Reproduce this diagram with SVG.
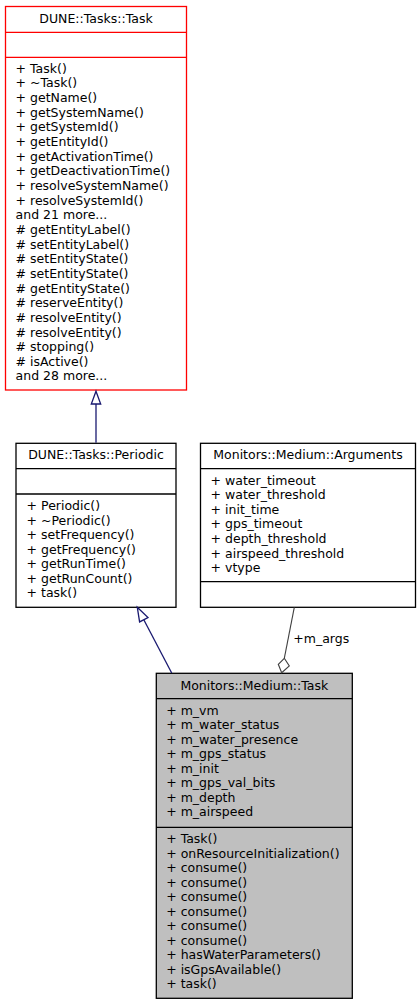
<svg xmlns="http://www.w3.org/2000/svg" width="420" height="1005" viewBox="0 0 420 1005">
<style>
text{font-family:"DejaVu Sans","Bitstream Vera Sans",sans-serif;font-size:12.5px;fill:#000}
.t{text-anchor:middle}
.box{fill:#fff;stroke:#000;stroke-width:1.3}
.red{stroke:#ff0000}
.grey{fill:#bfbfbf}
.sep{stroke:#000;stroke-width:1.3}
.sepr{stroke:#ff0000;stroke-width:1.3}
.inh{stroke:#191970;stroke-width:1.3;fill:none}
.inhh{stroke:#191970;stroke-width:1.3;fill:#fff}
.agg{stroke:#404040;stroke-width:1.1;fill:none}
.aggh{stroke:#404040;stroke-width:1.1;fill:#fff}
</style>
<rect width="420" height="1005" fill="#fff"/>
<g id="node-dune-tasks-task">
<rect class="box red" x="5.5" y="6.5" width="181" height="383.5"/>
<line class="sepr" x1="5.5" y1="32.3" x2="186.5" y2="32.3"/>
<line class="sepr" x1="5.5" y1="57.3" x2="186.5" y2="57.3"/>
<text class="t" x="96" y="23">DUNE::Tasks::Task</text>
<text x="15.6" y="72.8">+ Task()</text>
<text x="15.6" y="87.45">+ ~Task()</text>
<text x="15.6" y="102.1">+ getName()</text>
<text x="15.6" y="116.75">+ getSystemName()</text>
<text x="15.6" y="131.4">+ getSystemId()</text>
<text x="15.6" y="146.05">+ getEntityId()</text>
<text x="15.6" y="160.7">+ getActivationTime()</text>
<text x="15.6" y="175.35">+ getDeactivationTime()</text>
<text x="15.6" y="190">+ resolveSystemName()</text>
<text x="15.6" y="204.65">+ resolveSystemId()</text>
<text x="15.6" y="219.3">and 21 more...</text>
<text x="15.6" y="233.95"># getEntityLabel()</text>
<text x="15.6" y="248.6"># setEntityLabel()</text>
<text x="15.6" y="263.25"># setEntityState()</text>
<text x="15.6" y="277.9"># setEntityState()</text>
<text x="15.6" y="292.55"># getEntityState()</text>
<text x="15.6" y="307.2"># reserveEntity()</text>
<text x="15.6" y="321.85"># resolveEntity()</text>
<text x="15.6" y="336.5"># resolveEntity()</text>
<text x="15.6" y="351.15"># stopping()</text>
<text x="15.6" y="365.8"># isActive()</text>
<text x="15.6" y="380.45">and 28 more...</text>
</g>
<g id="node-dune-tasks-periodic">
<rect class="box" x="16" y="443.3" width="160" height="164"/>
<line class="sep" x1="16" y1="468.7" x2="176" y2="468.7"/>
<line class="sep" x1="16" y1="494" x2="176" y2="494"/>
<text class="t" x="96" y="458.6">DUNE::Tasks::Periodic</text>
<text x="26.6" y="510">+ Periodic()</text>
<text x="26.6" y="524.5">+ ~Periodic()</text>
<text x="26.6" y="539">+ setFrequency()</text>
<text x="26.6" y="553.5">+ getFrequency()</text>
<text x="26.6" y="568">+ getRunTime()</text>
<text x="26.6" y="582.5">+ getRunCount()</text>
<text x="26.6" y="597">+ task()</text>
</g>
<g id="node-monitors-medium-arguments">
<rect class="box" x="200.5" y="443.3" width="215" height="164"/>
<line class="sep" x1="200.5" y1="468.7" x2="415.5" y2="468.7"/>
<line class="sep" x1="200.5" y1="581.7" x2="415.5" y2="581.7"/>
<text class="t" x="308" y="458.6">Monitors::Medium::Arguments</text>
<text x="210.6" y="484.5">+ water_timeout</text>
<text x="210.6" y="499.15">+ water_threshold</text>
<text x="210.6" y="513.8">+ init_time</text>
<text x="210.6" y="528.45">+ gps_timeout</text>
<text x="210.6" y="543.1">+ depth_threshold</text>
<text x="210.6" y="557.75">+ airspeed_threshold</text>
<text x="210.6" y="572.4">+ vtype</text>
</g>
<g id="node-monitors-medium-task">
<rect class="box grey" x="156.3" y="673.3" width="196" height="325"/>
<line class="sep" x1="156.3" y1="698.7" x2="352.3" y2="698.7"/>
<line class="sep" x1="156.3" y1="827.3" x2="352.3" y2="827.3"/>
<text class="t" x="254.3" y="689.6">Monitors::Medium::Task</text>
<text x="166.2" y="714.5">+ m_vm</text>
<text x="166.2" y="729">+ m_water_status</text>
<text x="166.2" y="743.5">+ m_water_presence</text>
<text x="166.2" y="758">+ m_gps_status</text>
<text x="166.2" y="772.5">+ m_init</text>
<text x="166.2" y="787">+ m_gps_val_bits</text>
<text x="166.2" y="801.5">+ m_depth</text>
<text x="166.2" y="816">+ m_airspeed</text>
<text x="166.2" y="843">+ Task()</text>
<text x="166.2" y="857.5">+ onResourceInitialization()</text>
<text x="166.2" y="872">+ consume()</text>
<text x="166.2" y="886.5">+ consume()</text>
<text x="166.2" y="901">+ consume()</text>
<text x="166.2" y="915.5">+ consume()</text>
<text x="166.2" y="930">+ consume()</text>
<text x="166.2" y="944.5">+ consume()</text>
<text x="166.2" y="959">+ hasWaterParameters()</text>
<text x="166.2" y="973.5">+ isGpsAvailable()</text>
<text x="166.2" y="988">+ task()</text>
</g>
<g id="connectors">
<line class="inh" x1="96" y1="442.7" x2="96" y2="404"/>
<polygon class="inhh" points="96,391.2 100.7,404 91.3,404"/>
<line class="inh" x1="171.7" y1="673" x2="143.8" y2="619.7"/>
<polygon class="inhh" points="137.3,607.3 148,617.5 139.6,621.9"/>
<line class="agg" x1="294.3" y1="607.3" x2="284.3" y2="658.3"/>
<polygon class="aggh" points="284.3,658.3 289.3,666 281.7,672.7 278.3,664.3"/>
<text x="293.3" y="643">+m_args</text>
</g>
</svg>
